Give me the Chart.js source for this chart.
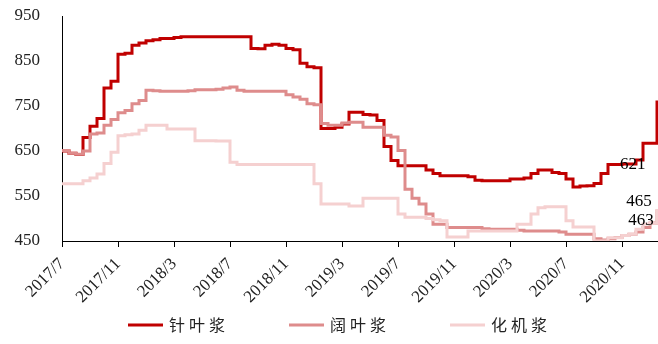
<!DOCTYPE html>
<html>
<head>
<meta charset="utf-8">
<script src="https://cdn.jsdelivr.net/npm/chart.js@4.4.0/dist/chart.umd.min.js"></script>
<style>
  html, body { margin: 0; padding: 0; background: #fff; }
  #wrap { width: 658px; height: 344px; }
</style>
</head>
<body>
<div id="wrap"><canvas id="pulp"></canvas></div>
<script>
// tick labels, one every 4 months; data is read every half month
var tickLabels = ['2017/7', '2017/11', '2018/3', '2018/7', '2018/11', '2019/3',
                  '2019/7', '2019/11', '2020/3', '2020/7', '2020/11'];
var seriesNames = ['针叶浆', '阔叶浆', '化机浆'];

// 针叶浆
var softwood = [650, 645, 642, 680, 705, 722, 790, 805, 865, 867,
                885, 890, 895, 897, 900, 900, 902, 904, 904, 904,
                904, 904, 904, 904, 904, 904, 904, 878, 877, 885,
                887, 885, 878, 875, 845, 837, 835, 700, 700, 703,
                710, 736, 736, 731, 730, 718, 660, 629, 617, 617,
                617, 617, 608, 600, 595, 595, 595, 595, 593, 585,
                584, 584, 584, 584, 588, 588, 590, 600, 608, 608,
                602, 600, 588, 570, 572, 573, 578, 600, 620, 620,
                621, 621, 630, 667, 667, 762];
// 阔叶浆
var hardwood = [651, 645, 643, 650, 688, 690, 707, 720, 735, 740,
                755, 762, 785, 784, 783, 783, 783, 783, 784, 786,
                786, 786, 787, 790, 792, 785, 783, 783, 783, 783,
                783, 783, 775, 770, 765, 755, 753, 711, 707, 707,
                712, 714, 714, 703, 703, 703, 685, 681, 651, 565,
                545, 532, 510, 487, 487, 480, 480, 480, 480, 480,
                477, 476, 476, 476, 476, 474, 472, 472, 472, 472,
                472, 470, 465, 465, 465, 465, 455, 452, 455, 458,
                462, 465, 470, 480, 490, 520];
// 化机浆
var mechanical = [577, 577, 577, 584, 590, 599, 622, 647, 684, 686,
                  688, 696, 707, 707, 707, 699, 699, 699, 699, 673,
                  673, 673, 672, 672, 625, 620, 620, 620, 620, 620,
                  620, 620, 620, 620, 620, 620, 577, 532, 532, 532,
                  532, 528, 528, 545, 545, 545, 545, 545, 510, 503,
                  503, 503, 500, 497, 495, 459, 459, 459, 472, 472,
                  472, 472, 472, 472, 472, 487, 487, 510, 524, 526,
                  526, 526, 495, 481, 481, 481, 450, 450, 457, 457,
                  462, 465, 476, 488, 490, 521];

// value labels near the end of the lines
var endNotes = [
    {text: '621', idx: 79.7, value: 621, dy: 0},
    {text: '465', idx: 80.6, value: 465, dy: -33},
    {text: '463', idx: 80.9, value: 463, dy: -15}
];

var colors = ['rgb(192,0,0)', 'rgb(222,140,140)', 'rgb(245,208,208)'];

var periods = [];
for (var i = 0; i < softwood.length; i++) {
    periods.push(i % 8 === 0 ? tickLabels[i / 8] : '');
}

var serif = "'Liberation Serif', 'Times New Roman', serif";

// small labels at the right end
var notesPlugin = {
    id: 'endNotes',
    afterDatasetsDraw: function(chart) {
        var ctx = chart.ctx;
        var x = chart.scales.x, y = chart.scales.y;
        var step = x.getPixelForValue(1) - x.getPixelForValue(0);
        ctx.save();
        ctx.font = '17px ' + serif;
        ctx.fillStyle = '#000';
        ctx.textAlign = 'left';
        ctx.textBaseline = 'middle';
        endNotes.forEach(function(n) {
            ctx.fillText(n.text, x.getPixelForValue(0) + n.idx * step, y.getPixelForValue(n.value) + n.dy);
        });
        ctx.restore();
    }
};

// legend drawn by hand, the built-in one adds too much height with wide spacing
var legendPlugin = {
    id: 'bottomLegend',
    afterDraw: function(chart) {
        var ctx = chart.ctx;
        var pitch = 161, lineW = 35, gap = 6;
        var ly = chart.height - 19;
        var startX = chart.width / 2 - pitch - 40;
        ctx.save();
        ctx.font = "16px 'Noto Sans CJK SC'";
        ctx.letterSpacing = '4px';
        ctx.textBaseline = 'middle';
        ctx.textAlign = 'left';
        seriesNames.forEach(function(name, k) {
            var x0 = startX + k * pitch;
            ctx.fillStyle = colors[k];
            ctx.fillRect(x0, ly - 1.5, lineW, 3);
            ctx.fillStyle = '#222';
            ctx.fillText(name, x0 + lineW + gap, ly);
        });
        ctx.restore();
    }
};

function makeSet(label, data, color) {
    return {
        label: label,
        data: data,
        borderColor: color,
        backgroundColor: color,
        borderWidth: 3,
        pointRadius: 0,
        stepped: true,
        fill: false
    };
}

new Chart(document.getElementById('pulp'), {
    type: 'line',
    data: {
        labels: periods,
        datasets: [
            makeSet(seriesNames[2], mechanical, colors[2]),
            makeSet(seriesNames[1], hardwood, colors[1]),
            makeSet(seriesNames[0], softwood, colors[0])
        ]
    },
    options: {
        responsive: true,
        maintainAspectRatio: false,
        animation: false,
        layout: { padding: { top: 16, right: 1, left: 0, bottom: 33 } },
        plugins: {
            tooltip: { enabled: false },
            legend: { display: false }
        },
        scales: {
            x: {
                type: 'category',
                offset: false,
                grid: {
                    drawOnChartArea: false,
                    drawTicks: true,
                    tickLength: 6,
                    color: '#000'
                },
                border: { display: true, color: '#000', width: 1 },
                ticks: {
                    autoSkip: false,
                    minRotation: 45,
                    maxRotation: 45,
                    padding: 7,
                    color: '#222',
                    font: { family: serif, size: 17 },
                    callback: function(value, index) {
                        return periods[index] ? periods[index] : null;
                    }
                },
                afterFit: function(scale) { scale.height = 70; }
            },
            y: {
                min: 450,
                max: 950,
                grid: { drawOnChartArea: false, drawTicks: false },
                border: { display: true, color: '#000', width: 1 },
                ticks: {
                    stepSize: 100,
                    padding: 22,
                    color: '#222',
                    font: { family: serif, size: 17 }
                },
                afterFit: function(scale) {
                    scale.width = 62;
                    scale.paddingTop = 0;
                    scale.paddingBottom = 0;
                }
            }
        }
    },
    plugins: [notesPlugin, legendPlugin]
});
</script>
</body>
</html>
